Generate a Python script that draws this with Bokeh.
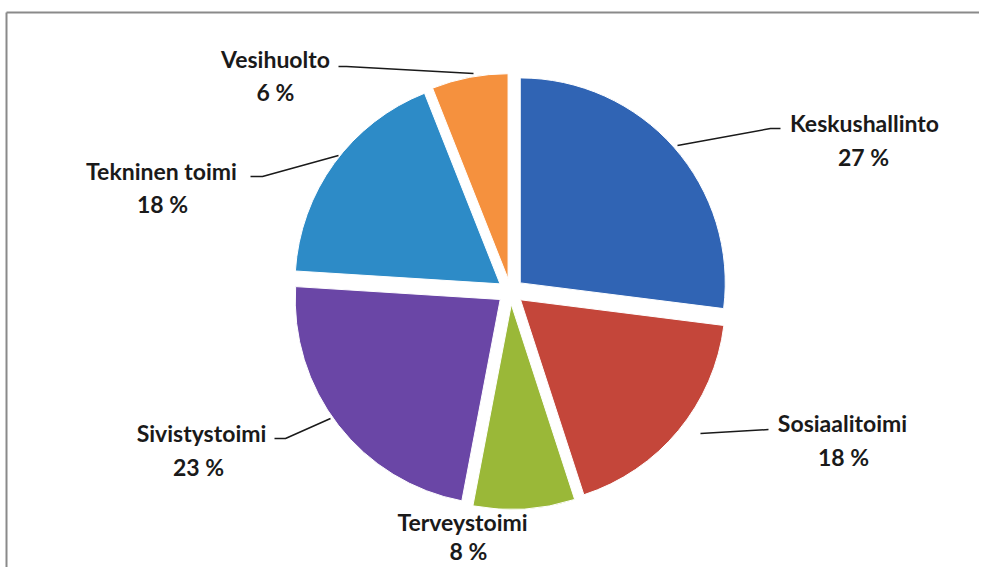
import math
from bokeh.plotting import figure
from bokeh.models import Range1d, ColumnDataSource
from bokeh.core.properties import value
from bokeh.embed import file_html
from bokeh.resources import INLINE

# ---- data ----
categories = ["Keskushallinto", "Sosiaalitoimi", "Terveystoimi",
              "Sivistystoimi", "Tekninen toimi", "Vesihuolto"]
shares = [27, 18, 8, 23, 18, 6]
pct_labels = ["27 %", "18 %", "8 %", "23 %", "18 %", "6 %"]
colors = ["#3064b4", "#c4463a", "#9ab838", "#6a46a6", "#2d8bc7", "#f5913e"]

# ---- layout (image pixel coordinates) ----
W, H = 979, 567
IMG_H = 575
def Y(iy):
    return IMG_H - iy

cx, cy = 510, 291
radius = 205
explode = 13

label_pos = [(864, 122), (842, 422), (462, 521), (201, 432), (161, 170), (275, 58)]
pct_pos = [(863, 156), (843, 456), (468, 550), (198, 466), (162, 203), (275, 91)]
leaders = [
    [(677, 145), (770, 128), (780, 128)],
    [(700, 433), (768, 429)],
    [],
    [(274, 438), (285, 438), (330, 418)],
    [(250, 176), (262, 176), (338, 155)],
    [(338, 66), (346, 66), (473, 73)],
]

total = sum(shares)
xs, ys, starts, ends = [], [], [], []
acc = 0.0
for v in shares:
    a1 = acc / total * 360.0
    a2 = (acc + v) / total * 360.0
    mid = math.radians((a1 + a2) / 2)
    xs.append(cx + explode * math.sin(mid))
    ys.append(Y(cy) + explode * math.cos(mid))
    # clockwise from top -> bokeh anticlockwise from +x
    starts.append(math.radians(90 - a2))
    ends.append(math.radians(90 - a1))
    acc += v

src = ColumnDataSource(dict(x=xs, y=ys, start=starts, end=ends, color=colors, cat=categories))

p = figure(width=W, height=H, output_backend="svg", toolbar_location=None,
           x_range=Range1d(0, W), y_range=Range1d(IMG_H - H, IMG_H),
           min_border=0, min_border_left=0, min_border_right=0,
           min_border_top=0, min_border_bottom=0)
p.axis.visible = False
p.grid.visible = False
p.outline_line_color = None
p.background_fill_color = "white"
p.border_fill_color = "white"

# frame lines (scan border)
p.segment(x0=[6, 6], y0=[Y(12), Y(12)], x1=[987, 6], y1=[Y(12), Y(580)],
          line_color="#8a8a8a", line_width=2)

p.wedge(x="x", y="y", radius=radius, start_angle="start", end_angle="end",
        fill_color="color", line_color="white", line_width=1, source=src)

lx, ly = [], []
for seg in leaders:
    if seg:
        lx.append([s[0] for s in seg])
        ly.append([Y(s[1]) for s in seg])
p.multi_line(xs=lx, ys=ly, line_color="#1a1a1a", line_width=1.5)

font = value("Lato")
p.text(x=[q[0] for q in label_pos], y=[Y(q[1]) for q in label_pos], text=categories,
       text_font=font, text_font_style="bold", text_font_size="23px",
       text_color="#1a1a1a", text_align="center", text_baseline="middle")
p.text(x=[q[0] for q in pct_pos], y=[Y(q[1]) for q in pct_pos], text=pct_labels,
       text_font=font, text_font_style="bold", text_font_size="23px",
       text_color="#1a1a1a", text_align="center", text_baseline="middle")

open("out.html", "w").write(file_html(p, INLINE))
